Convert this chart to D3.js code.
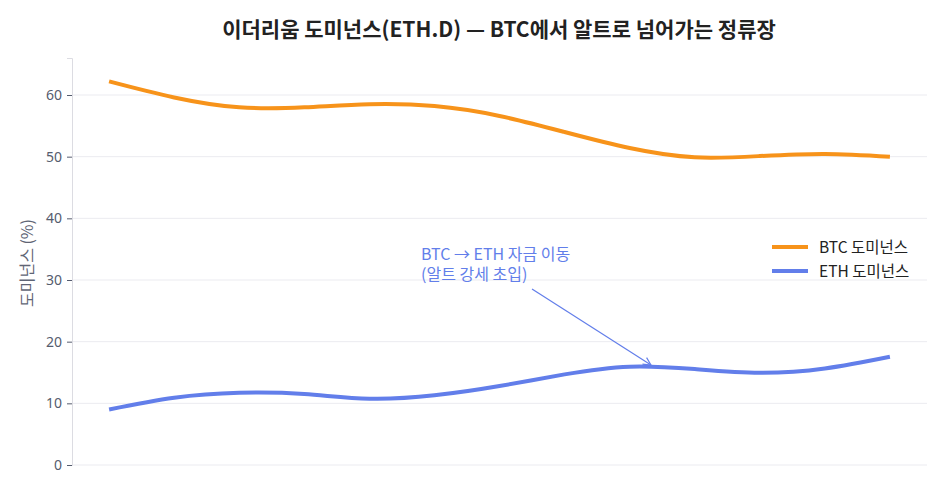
<!DOCTYPE html>
<html>
<head>
<meta charset="utf-8">
<script src="https://cdn.jsdelivr.net/npm/d3@7"></script>
<style>
  body { margin: 0; background: #fff; }
  svg { font-family: "Noto Sans CJK KR", "Noto Sans", sans-serif; }
</style>
</head>
<body>
<div id="container"></div>
<script>
var w = 947;
var h = 494;

// periods (no x labels in the original)
var periods = d3.range(13);
var btcDom = [62.2, 59.6, 58.0, 58.0, 58.5, 58.2, 56.6, 54.0, 51.4, 49.9, 50.1, 50.45, 50.0];
var ethDom = [9.0, 10.9, 11.7, 11.5, 10.75, 11.3, 12.8, 14.7, 15.95, 15.55, 14.95, 15.65, 17.55];
var yTicks = [0, 10, 20, 30, 40, 50, 60];
var seriesNames = ["BTC 도미넌스", "ETH 도미넌스"];
var colors = ["#F7931A", "#627EEA"];

var margin = {top: 58, right: 20, bottom: 29, left: 72};

var svg = d3.select("div#container")
    .append("svg")
    .attr("width", w)
    .attr("height", h);

var x = d3.scaleLinear().domain([-0.57, 12.57]).range([margin.left, w - margin.right]);
var y = d3.scaleLinear().domain([0, 66]).range([h - margin.bottom, margin.top]);

// grid
svg.append("g")
  .selectAll("line")
  .data(yTicks)
  .enter().append("line")
    .attr("x1", margin.left)
    .attr("x2", w - margin.right)
    .attr("y1", d => y(d))
    .attr("y2", d => y(d))
    .attr("stroke", "#ebebf0")
    .attr("stroke-width", 1);

// y axis
var yAxis = svg.append("g")
    .attr("transform", "translate(" + margin.left + ",0)")
    .call(d3.axisLeft(y).tickValues(yTicks).tickSize(5).tickPadding(5));
yAxis.select(".domain").attr("stroke", "#dcdce2");
yAxis.selectAll(".tick line").attr("stroke", "#555c6e");
yAxis.selectAll("text").attr("fill", "#555c6e").style("font-size", "14px")
    .style("font-family", "'Noto Sans', 'Noto Sans CJK KR', sans-serif");

svg.append("text")
    .attr("transform", "translate(33," + 263 + ") rotate(-90)")
    .attr("text-anchor", "middle")
    .attr("fill", "#5f6575")
    .style("font-size", "16px")
    .text("도미넌스 (%)");

// title
svg.append("text")
    .attr("x", 499)
    .attr("y", 37)
    .attr("text-anchor", "middle")
    .attr("fill", "#222")
    .style("font-size", "21px")
    .style("font-weight", "bold")
    .text("이더리움 도미넌스(ETH.D) — BTC에서 알트로 넘어가는 정류장");

var line = d3.line()
    .x((d, i) => x(periods[i]))
    .y(d => y(d))
    .curve(d3.curveNatural);

[btcDom, ethDom].forEach(function(s, i) {
  svg.append("path")
    .datum(s)
    .attr("fill", "none")
    .attr("stroke", colors[i])
    .attr("stroke-width", 4)
    .attr("d", line);
});

// legend
var legend = svg.append("g").attr("transform", "translate(772,247)");
seriesNames.forEach(function(n, i) {
  legend.append("line")
    .attr("x1", 0).attr("x2", 36)
    .attr("y1", i * 24).attr("y2", i * 24)
    .attr("stroke", colors[i])
    .attr("stroke-width", 4);
  legend.append("text")
    .attr("x", 47).attr("y", i * 24 + 5.5)
    .attr("fill", "#222")
    .style("font-size", "15.5px")
    .text(n);
});

// annotation
svg.append("defs").append("marker")
    .attr("id", "arr")
    .attr("viewBox", "0 0 10 10")
    .attr("refX", 9).attr("refY", 5)
    .attr("markerWidth", 8).attr("markerHeight", 8)
    .attr("orient", "auto")
  .append("path")
    .attr("d", "M1,1 L9,5 L1,9")
    .attr("fill", "none")
    .attr("stroke", "#627EEA")
    .attr("stroke-width", 1.2);

svg.append("line")
    .attr("x1", 532).attr("y1", 289)
    .attr("x2", 651).attr("y2", 365)
    .attr("stroke", "#627EEA")
    .attr("stroke-width", 1.2)
    .attr("marker-end", "url(#arr)");

var note = svg.append("text")
    .attr("fill", "#627EEA")
    .style("font-size", "16px");
note.append("tspan").attr("x", 421).attr("y", 260).text("BTC → ETH 자금 이동");
note.append("tspan").attr("x", 421).attr("y", 280).text("(알트 강세 초입)");
</script>
</body>
</html>
